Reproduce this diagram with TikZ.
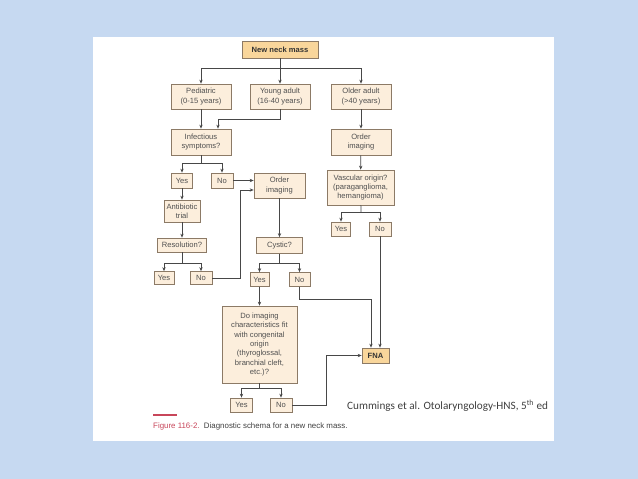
\documentclass[tikz,border=0pt]{standalone}
\usepackage{fontspec}
\setmainfont{Liberation Sans}
\newfontfamily\calib{Carlito}
\usetikzlibrary{arrows.meta}
\definecolor{bgblue}{HTML}{C6D9F1}
\definecolor{boxfill}{HTML}{FCEEDC}
\definecolor{keyfill}{HTML}{F9D69B}
\definecolor{boxline}{HTML}{8C7A66}
\definecolor{wirecol}{HTML}{474747}
\definecolor{txt}{HTML}{505050}
\definecolor{figred}{HTML}{C8465A}
\begin{document}
\begin{tikzpicture}[x=1pt,y=-1pt,
 box/.style={draw=boxline, fill=boxfill, line width=0.7pt, text=txt, align=center, inner sep=0pt, font=\fontsize{7.6}{9.3}\selectfont},
 key/.style={box, fill=keyfill, text=black!80, font=\fontsize{7.6}{9.3}\selectfont\bfseries},
 wire/.style={draw=wirecol, line width=0.75pt},
 arr/.style={wire, -{Stealth[length=4pt,width=3.4pt]}}]
\useasboundingbox (0,0) rectangle (638,479);
\fill[bgblue] (0,0) rectangle (638,479);
\fill[white] (93,37) rectangle (554,441);

% nodes
\node[key, minimum width=76, minimum height=17] (nnm) at (280,49.5) {New neck mass};
\node[box, minimum width=60, minimum height=25] (ped) at (201,96.5) {Pediatric\\(0-15 years)};
\node[box, minimum width=60, minimum height=25] (young) at (280,96.5) {Young adult\\(16-40 years)};
\node[box, minimum width=60, minimum height=25] (older) at (361,96.5) {Older adult\\(>40 years)};
\node[box, minimum width=60, minimum height=26] (inf) at (201,142) {Infectious\\symptoms?};
\node[box, minimum width=60, minimum height=26] (oimgR) at (361,142) {Order\\imaging};
\node[box, minimum width=21, minimum height=15] (yes1) at (182,180.5) {Yes};
\node[box, minimum width=22, minimum height=15] (no1) at (222,180.5) {No};
\node[box, minimum width=51, minimum height=25] (oimgL) at (279.5,185.5) {Order\\imaging};
\node[box, minimum width=67, minimum height=35] (vasc) at (360.5,187.5) {Vascular origin?\\(paraganglioma,\\hemangioma)};
\node[box, minimum width=36, minimum height=22] (anti) at (182,211) {Antibiotic\\trial};
\node[box, minimum width=49, minimum height=14] (res) at (182,245) {Resolution?};
\node[box, minimum width=19, minimum height=14] (yesR) at (341,229) {Yes};
\node[box, minimum width=22, minimum height=14] (noR) at (380,229) {No};
\node[box, minimum width=20, minimum height=13] (yes2) at (164,278) {Yes};
\node[box, minimum width=22, minimum height=13] (no2) at (201,278) {No};
\node[box, minimum width=46, minimum height=16] (cyst) at (279.5,245.5) {Cystic?};
\node[box, minimum width=19, minimum height=14] (yes3) at (259.5,279.5) {Yes};
\node[box, minimum width=21, minimum height=14] (no3) at (299.5,279.5) {No};
\node[box, minimum width=75, minimum height=77] (doimg) at (259.5,344.5) {Do imaging\\characteristics fit\\with congenital\\origin\\(thyroglossal,\\branchial cleft,\\etc.)?};
\node[key, minimum width=27, minimum height=15] (fna) at (375.5,355.5) {FNA};
\node[box, minimum width=22, minimum height=14] (yes4) at (241.5,405) {Yes};
\node[box, minimum width=22, minimum height=14] (no4) at (281,405) {No};

% junctions
\coordinate (j1) at (280,68);
\coordinate (j2) at (218,119);
\coordinate (j3) at (201,163);
\coordinate (j4) at (182,263);
\coordinate (j5) at (240,190);
\coordinate (j6) at (279.5,263);
\coordinate (j7) at (371,299);
\coordinate (j8) at (361,212);
\coordinate (j9) at (261,388);
\coordinate (j10) at (326,355.5);

% connectors
\draw[wire] (nnm) -- (j1);
\draw[arr] (j1) -| (ped);
\draw[arr] (j1) -- (young);
\draw[arr] (j1) -| (older);
\draw[arr] (ped) -- (inf);
\draw[arr] (young.south) |- (j2) -- (j2 |- inf.north);
\draw[wire] (inf) -- (j3);
\draw[arr] (j3) -| (yes1);
\draw[arr] (j3) -| (no1);
\draw[arr] (no1) -- (no1 -| oimgL.west);
\draw[arr] (yes1) -- (anti);
\draw[arr] (anti) -- (res);
\draw[wire] (res) -- (j4);
\draw[arr] (j4) -| (yes2);
\draw[arr] (j4) -| (no2);
\draw[arr] (no2.east) -| (j5) -- (j5 -| oimgL.west);
\draw[arr] (oimgL) -- (cyst);
\draw[wire] (cyst) -- (j6);
\draw[arr] (j6) -| (yes3);
\draw[arr] (j6) -| (no3);
\draw[arr] (yes3) -- (doimg);
\draw[arr] (no3.south) |- (j7) -- (j7 |- fna.north);
\draw[arr] (older) -- (oimgR);
\draw[arr] (oimgR) -- (vasc);
\draw[wire] (vasc) -- (j8);
\draw[arr] (j8) -| (yesR);
\draw[arr] (j8) -| (noR);
\draw[arr] (noR) -- (noR |- fna.north);
\draw[wire] (doimg.south) -- (doimg.south |- j9) -- (j9);
\draw[arr] (j9) -| (yes4);
\draw[arr] (j9) -| (no4);
\draw[arr] (no4.east) -| (j10) -- (fna.west);

% citation and caption
\node[anchor=west, inner sep=0pt, text=black!75, font=\calib\fontsize{11.2}{13}\selectfont] (cite) at (347,406) {Cummings et al. Otolaryngology-HNS, 5\textsuperscript{th} ed};
\draw[figred, line width=1.5pt] (153,415) -- (177,415);
\node[anchor=west, inner sep=0pt, text=black!75, font=\fontsize{7.9}{9}\selectfont] (cap) at (153,426) {\textcolor{figred}{Figure 116-2.}\ \ Diagnostic schema for a new neck mass.};
\end{tikzpicture}
\end{document}
